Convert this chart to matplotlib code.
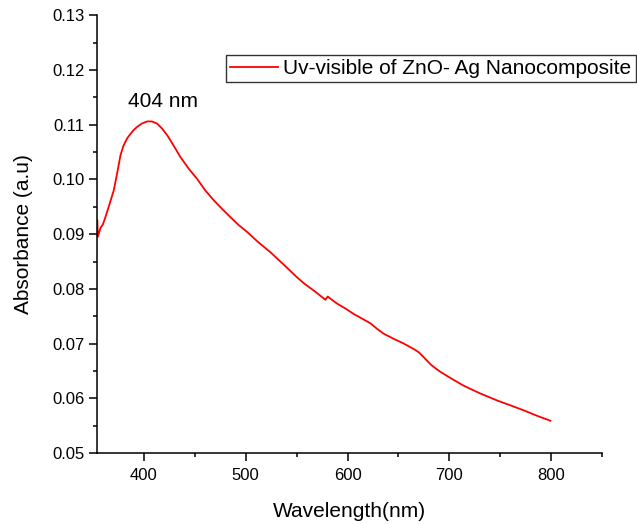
import matplotlib
matplotlib.use('Agg')
import matplotlib.pyplot as plt
from matplotlib.ticker import MultipleLocator

plt.rcParams['font.family'] = ['Liberation Sans', 'DejaVu Sans']

# spectrum
wavelength = [354.5, 355.0, 357.5, 360.0, 362.4, 366.0, 370.6, 374.0, 377.2, 380.0,
              383.7, 386.5, 390.0, 393.5, 398.0, 403.3, 408.0, 413.2, 418.0, 423.0,
              429.0, 436.0, 444.0, 452.4, 460.0, 468.7, 477.0, 485.1, 493.0, 501.5,
              512.0, 524.3, 537.0, 550.5, 558.0, 566.8, 573.0, 578.3, 579.0, 580.6,
              584.0, 589.8, 598.0, 606.1, 614.0, 622.5, 629.0, 635.5, 645.0, 655.2,
              665.0, 670.0, 674.8, 682.0, 690.5, 702.0, 714.0, 730.0, 746.8, 760.0,
              772.9, 786.0, 799.1]
absorbance = [0.0925, 0.0895, 0.0911, 0.0918, 0.0931, 0.0952, 0.0980, 0.1012, 0.1044, 0.1061,
              0.1075, 0.1082, 0.1090, 0.1096, 0.1102, 0.1106, 0.1106, 0.1102, 0.1093, 0.1081,
              0.1063, 0.1041, 0.1020, 0.1001, 0.0981, 0.0962, 0.0946, 0.0931, 0.0917, 0.0904,
              0.0886, 0.0867, 0.0845, 0.0821, 0.0809, 0.0797, 0.0788, 0.0780, 0.0782, 0.0786,
              0.0781, 0.0773, 0.0764, 0.0754, 0.0746, 0.0737, 0.0727, 0.0718, 0.0709, 0.0700,
              0.0690, 0.0684, 0.0675, 0.0661, 0.0649, 0.0636, 0.0623, 0.0609, 0.0596, 0.0587,
              0.0578, 0.0568, 0.0559]

fig = plt.figure(figsize=(6.37, 5.24), dpi=100)
ax = fig.add_axes([0.152, 0.1355, 0.7935, 0.8353])

line, = ax.plot(wavelength, absorbance, color='#ff0000', lw=1.3,
                label='Uv-visible of ZnO- Ag Nanocomposite')

ax.set_xlim(354, 850)
ax.set_ylim(0.05, 0.13)
ax.xaxis.set_major_locator(MultipleLocator(100))
ax.xaxis.set_minor_locator(MultipleLocator(50))
ax.yaxis.set_major_locator(MultipleLocator(0.01))
ax.yaxis.set_minor_locator(MultipleLocator(0.005))
ax.yaxis.set_major_formatter(matplotlib.ticker.FormatStrFormatter('%.2f'))

for s in ['top', 'right']:
    ax.spines[s].set_visible(False)
for s in ['left', 'bottom']:
    ax.spines[s].set_linewidth(1.1)

ax.tick_params(which='major', direction='out', length=5.8, width=1.1, labelsize=12)
ax.tick_params(which='minor', direction='out', length=2.6, width=1.1)
ax.tick_params(axis='x', which='major', pad=5)
ax.tick_params(axis='y', which='major', pad=3)

ax.set_xlabel('Wavelength(nm)', fontsize=15, labelpad=14)
ax.set_ylabel('Absorbance (a.u)', fontsize=15, labelpad=14)

ax.text(419, 0.1143, '404 nm', fontsize=15, ha='center', va='center')

leg = fig.legend(handles=[line], loc='upper left', bbox_to_anchor=(0.3548, 0.895),
                 fontsize=15, fancybox=False, framealpha=1, edgecolor='#333333',
                 handlelength=2.3, handletextpad=0.25, borderpad=0.2,
                 borderaxespad=0)
leg.get_frame().set_linewidth(1.0)

fig.savefig('out.png', dpi=100)
